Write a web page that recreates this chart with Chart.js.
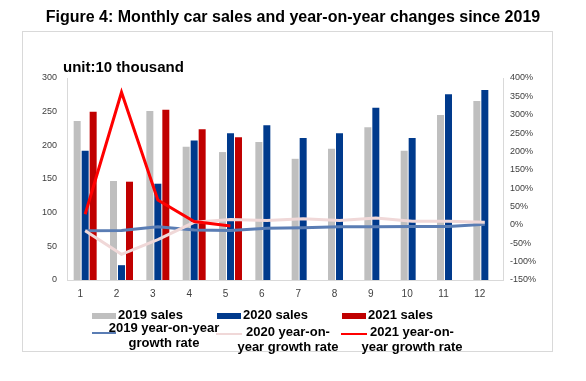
<!DOCTYPE html>
<html>
<head>
<meta charset="utf-8">
<script src="https://cdn.jsdelivr.net/npm/chart.js@4/dist/chart.umd.min.js"></script>
<style>
  html, body { margin: 0; padding: 0; background: #fff; }
  #wrap { position: relative; width: 586px; height: 381px; font-family: "Liberation Sans", Arial, sans-serif; }
  #c { position: absolute; left: 0; top: 0; }
  #frame { position: absolute; left: 22px; top: 31px; width: 529px; height: 319px; border: 1px solid #D9D9D9; }
  #title { position: absolute; left: 0; width: 586px; top: 8px; line-height: 18px; text-align: center; font-weight: bold; font-size: 16px; color: #000; }
  #unit { position: absolute; left: 63px; top: 58px; line-height: 18px; font-weight: bold; font-size: 15px; color: #000; }
  .lg { position: absolute; font-weight: bold; font-size: 13px; color: #000; line-height: 15px; }
  .sw { position: absolute; }
</style>
</head>
<body>
<div id="wrap">
  <div id="frame"></div>
  <canvas id="c" width="586" height="381"></canvas>
  <div id="title">Figure 4: Monthly car sales and year-on-year changes since 2019</div>
  <div id="unit">unit:10 thousand</div>
  <div id="legend"></div>
</div>
<script>
// ---- data ----
const months = ['1','2','3','4','5','6','7','8','9','10','11','12'];
const sales2019 = [236, 147, 251, 198, 190, 205, 180, 195, 227, 192, 245, 266];
const sales2020 = [192, 22, 143, 207, 218, 230, 211, 218, 256, 211, 276, 282];
const sales2021 = [250, 146, 253, 224, 212, null, null, null, null, null, null, null];
const yoy2019 = [-16, -15, -5, -14, -15, -9, -8, -5, -5, -4, -4, 2];
const yoy2020 = [-16, -80, -40, 7, 15, 12, 17, 12, 19, 10, 10, 7];
const yoy2021 = [29, 361, 68, 9, -3, null, null, null, null, null, null, null];
const leftTicks = [0, 50, 100, 150, 200, 250, 300];
const rightTicks = [-150, -100, -50, 0, 50, 100, 150, 200, 250, 300, 350, 400];
const seriesNames = ['2019 sales', '2020 sales', '2021 sales',
  '2019 year-on-year growth rate', '2020 year-on-year growth rate', '2021 year-on-year growth rate'];

const tickColor = '#404040';
const axisColor = '#D9D9D9';
const FONT = '"Liberation Sans", Arial, sans-serif';

const barCommon = { type: 'bar', yAxisID: 'y', categoryPercentage: 0.66, barPercentage: 0.875, order: 5 };
const lineCommon = { type: 'line', yAxisID: 'y1', borderWidth: 3, pointRadius: 0, pointHoverRadius: 0, tension: 0, fill: false, spanGaps: false };

const chart = new Chart(document.getElementById('c'), {
  data: {
    labels: months,
    datasets: [
      Object.assign({}, barCommon, { label: seriesNames[0], data: sales2019, backgroundColor: '#BFBFBF' }),
      Object.assign({}, barCommon, { label: seriesNames[1], data: sales2020, backgroundColor: '#003A8C' }),
      Object.assign({}, barCommon, { label: seriesNames[2], data: sales2021, backgroundColor: '#C00000' }),
      Object.assign({}, lineCommon, { label: seriesNames[3], data: yoy2019, borderColor: '#5A7DB4', order: 2 }),
      Object.assign({}, lineCommon, { label: seriesNames[4], data: yoy2020, borderColor: '#F0D8D8', order: 1 }),
      Object.assign({}, lineCommon, { label: seriesNames[5], data: yoy2021, borderColor: '#FF0000', order: 0 })
    ]
  },
  options: {
    responsive: false,
    animation: false,
    events: [],
    layout: { padding: { top: 78, left: 0, right: 0, bottom: 0 } },
    plugins: { legend: { display: false }, title: { display: false }, tooltip: { enabled: false } },
    scales: {
      x: {
        type: 'category',
        offset: true,
        grid: { display: false, drawTicks: false },
        border: { color: axisColor, width: 1 },
        ticks: { color: tickColor, font: { family: FONT, size: 10 }, padding: 8, labelOffset: -5, maxRotation: 0, autoSkip: false },
        afterFit: s => { s.height = 101; }
      },
      y: {
        position: 'left',
        min: leftTicks[0], max: leftTicks[leftTicks.length - 1],
        afterBuildTicks: s => { s.ticks = leftTicks.map(v => ({ value: v })); },
        grid: { display: false, drawTicks: false },
        border: { color: axisColor, width: 1 },
        ticks: { color: tickColor, font: { family: FONT, size: 9 }, padding: 10 },
        afterFit: s => { s.width = 67; }
      },
      y1: {
        position: 'right',
        min: rightTicks[0], max: rightTicks[rightTicks.length - 1],
        afterBuildTicks: s => { s.ticks = rightTicks.map(v => ({ value: v })); },
        grid: { display: false, drawTicks: false },
        border: { color: axisColor, width: 1 },
        ticks: { color: tickColor, font: { family: FONT, size: 9 }, padding: 7, callback: v => v + '%' },
        afterFit: s => { s.width = 83; }
      }
    }
  }
});

// ---- HTML legend built from the chart's datasets ----
const legendLayout = [
  { sw: [92, 313, 24, 6], text: [118, 307], w: null },
  { sw: [217, 313, 24, 6], text: [243, 307], w: null },
  { sw: [342, 313, 24, 6], text: [368, 307], w: null },
  { sw: [92, 332, 24, 2], text: [106, 319.5], w: 116 },
  { sw: [216, 333, 26, 2], text: [235, 323.5], w: 106 },
  { sw: [341, 333, 26, 2], text: [359, 323.5], w: 106 }
];
const lg = document.getElementById('legend');
chart.data.datasets.forEach((ds, i) => {
  const L = legendLayout[i];
  const sw = document.createElement('div');
  sw.className = 'sw';
  sw.style.left = L.sw[0] + 'px'; sw.style.top = L.sw[1] + 'px';
  sw.style.width = L.sw[2] + 'px'; sw.style.height = L.sw[3] + 'px';
  sw.style.background = ds.type === 'bar' ? ds.backgroundColor : ds.borderColor;
  lg.appendChild(sw);
  const t = document.createElement('div');
  t.className = 'lg';
  t.textContent = ds.label;
  t.style.left = L.text[0] + 'px'; t.style.top = L.text[1] + 'px';
  if (L.w) { t.style.width = L.w + 'px'; t.style.textAlign = 'center'; }
  else { t.style.whiteSpace = 'nowrap'; }
  lg.appendChild(t);
});
</script>
</body>
</html>
